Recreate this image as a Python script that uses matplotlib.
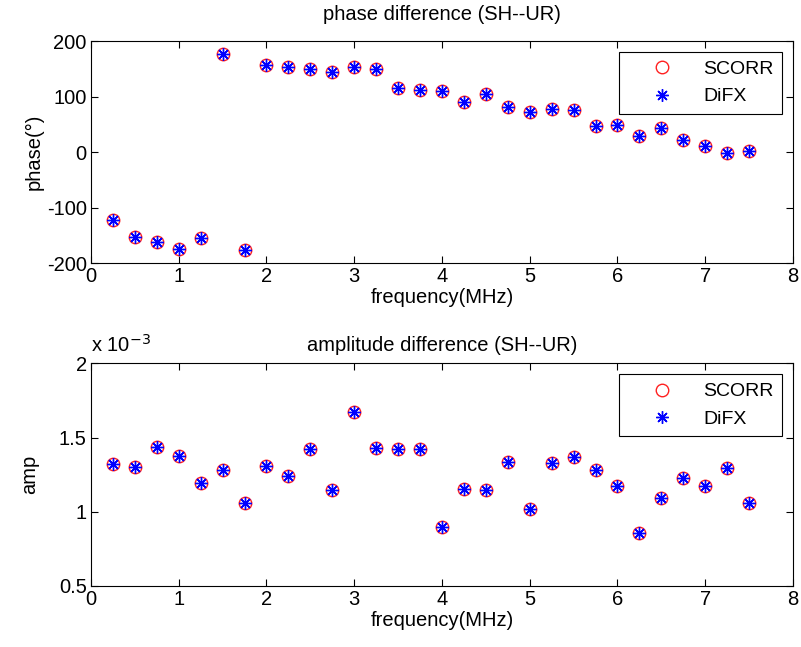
import numpy as np
import matplotlib.pyplot as plt

plt.rcParams['font.family'] = ['Liberation Sans', 'DejaVu Sans']
plt.rcParams['font.size'] = 14.5

freq = [0.25, 0.5, 0.75, 1.0, 1.25, 1.5, 1.75, 2.0, 2.25, 2.5, 2.75, 3.0, 3.25, 3.5, 3.75,
        4.0, 4.25, 4.5, 4.75, 5.0, 5.25, 5.5, 5.75, 6.0, 6.25, 6.5, 6.75, 7.0, 7.25, 7.5]

phase_scorr = [-123, -153, -163, -174, -155, 177, -176, 157, 153, 150, 144, 154, 150, 115, 111,
               110, 91, 104, 81, 72, 77, 76, 46, 49, 29, 43, 22, 11, -1, 2]
phase_difx = list(phase_scorr)

amp_scorr = [1.324, 1.300, 1.439, 1.378, 1.192, 1.282, 1.061, 1.311, 1.243, 1.425, 1.145, 1.670,
             1.430, 1.425, 1.421, 0.900, 1.156, 1.147, 1.338, 1.021, 1.327, 1.367, 1.282, 1.174,
             0.857, 1.093, 1.226, 1.174, 1.297, 1.059]
amp_difx = list(amp_scorr)

fig = plt.figure(figsize=(8.01, 6.47), dpi=100)
ax1 = fig.add_axes([0.1136, 0.5935, 0.8764, 0.3431])
ax2 = fig.add_axes([0.1136, 0.0943, 0.8764, 0.3442])

star = (8, 2, 0)

def draw(ax, ys, yd):
    ax.plot(freq, ys, linestyle='none', marker='o', markersize=9, markerfacecolor='none',
            markeredgecolor='#ff2020', markeredgewidth=1.0, label='SCORR')
    ax.plot(freq, yd, linestyle='none', marker=star, markersize=9, color='#0000ff',
            markeredgewidth=1.0, label='DiFX')
    ax.set_xlim(0, 8)
    ax.set_xticks(np.arange(0, 9, 1))
    ax.tick_params(direction='in', top=True, right=True, length=5, pad=3)
    ax.set_xlabel('frequency(MHz)', labelpad=1)
    leg = ax.legend(loc='upper right', fancybox=False, edgecolor='black', framealpha=1,
                    borderaxespad=0.55, handletextpad=0.3, fontsize=14, handlelength=3.6,
                    borderpad=0.45)
    leg.get_frame().set_linewidth(0.8)

draw(ax1, phase_scorr, phase_difx)
ax1.set_ylim(-200, 200)
ax1.set_yticks([-200, -100, 0, 100, 200])
ax1.set_yticklabels(['-200', '-100', '0', '100', '200'])
ax1.set_ylabel('phase(°)', labelpad=2)
ax1.set_title('phase difference (SH--UR)', fontsize=14.5, pad=15)

draw(ax2, amp_scorr, amp_difx)
ax2.set_ylim(0.5, 2)
ax2.set_yticks([0.5, 1, 1.5, 2])
ax2.set_yticklabels(['0.5', '1', '1.5', '2'])
ax2.set_ylabel('amp', labelpad=14)
ax2.set_title('amplitude difference (SH--UR)', fontsize=14.5, pad=9)
ax2.text(0.0, 1.035, r'x 10$^{-3}$', transform=ax2.transAxes, fontsize=14.5, ha='left', va='bottom')

plt.savefig('out.png', dpi=100)
